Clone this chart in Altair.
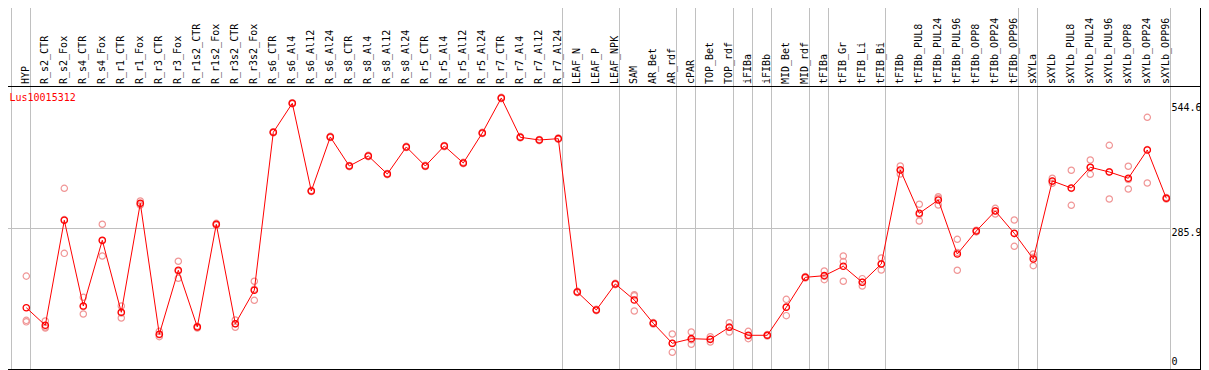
import altair as alt
import pandas as pd

gene = "Lus10015312"

categories = ["HYP", "R_s2_CTR", "R_s2_Fox", "R_s4_CTR", "R_s4_Fox", "R_r1_CTR", "R_r1_Fox",
              "R_r3_CTR", "R_r3_Fox", "R_r1s2_CTR", "R_r1s2_Fox", "R_r3s2_CTR", "R_r3s2_Fox",
              "R_s6_CTR", "R_s6_Al4", "R_s6_Al12", "R_s6_Al24", "R_s8_CTR", "R_s8_Al4", "R_s8_Al12",
              "R_s8_Al24", "R_r5_CTR", "R_r5_Al4", "R_r5_Al12", "R_r5_Al24", "R_r7_CTR", "R_r7_Al4",
              "R_r7_Al12", "R_r7_Al24", "LEAF_N", "LEAF_P", "LEAF_NPK", "SAM", "AR_Bet", "AR_rdf",
              "cPAR", "TOP_Bet", "TOP_rdf", "iFIBa", "iFIBb", "MID_Bet", "MID_rdf", "tFIBa",
              "tFIB_Gr", "tFIB_Li", "tFIB_Bi", "tFIBb", "tFIBb_PUL8", "tFIBb_PUL24", "tFIBb_PUL96",
              "tFIBb_OPP8", "tFIBb_OPP24", "tFIBb_OPP96", "sXYLa", "sXYLb", "sXYLb_PUL8",
              "sXYLb_PUL24", "sXYLb_PUL96", "sXYLb_OPP8", "sXYLb_OPP24", "sXYLb_OPP96"]

means = [124.7, 88.9, 302.6, 128.2, 261.9, 115.4, 337.2, 70.6, 200.9, 85.5, 294.5, 92.2, 160.2,
         481.7, 540.7, 362.2, 472.1, 413.1, 433.5, 396.8, 451.8, 413.1, 453.8, 419.2, 480.3,
         551.5, 471.5, 466.0, 468.7,
         156.7, 120.1, 173.0, 140.4, 93.0, 52.3, 61.7, 60.4, 84.9, 68.6, 68.6, 125.6, 186.6,
         189.9, 209.0, 176.4, 213.7,
         405.0, 316.9, 343.9, 234.0, 280.8, 321.5, 276.1, 223.9, 382.6, 368.3, 410.5, 400.9,
         388.1, 445.7, 347.4]

replicates = [
    [189.0, 99.0, 96.0], [97.7, 85.5, 83.5], [367.7, 235.4, 304.0], [145.9, 111.9, 127.0],
    [294.5, 230.0, 261.0], [128.2, 103.8, 114.0], [341.9, 333.7, 336.0], [76.7, 65.7, 69.5],
    [219.2, 184.6, 199.0], [86.9, 83.4, 86.2], [296.5, 292.4, 294.6], [99.7, 84.9, 92.0],
    [178.5, 139.8, 162.3],
    [483.0, 480.5, 481.6], [542.0, 539.4, 540.7], [363.5, 361.0, 362.1], [473.4, 470.9, 472.0],
    [414.3, 411.8, 413.2], [434.8, 432.1, 433.6], [398.0, 395.5, 396.9], [453.1, 450.6, 451.7],
    [414.5, 411.9, 412.9], [455.0, 452.5, 453.9], [420.6, 417.9, 419.1], [481.5, 479.0, 480.4],
    [552.8, 550.2, 551.5], [472.9, 470.2, 471.4], [467.2, 464.7, 466.1], [470.0, 467.4, 468.7],
    [158.0, 155.4, 156.7], [121.4, 118.8, 120.1], [174.3, 171.6, 173.1],
    [151.2, 149.0, 118.0], [94.5, 91.5, 93.0], [71.2, 34.0, 51.7], [75.3, 50.3, 59.5],
    [65.7, 55.0, 60.5], [94.2, 75.3, 85.2], [76.7, 61.7, 67.4], [70.0, 67.0, 68.8],
    [141.8, 108.5, 126.5], [188.0, 185.0, 186.8], [199.4, 181.7, 188.6], [230.0, 178.5, 218.5],
    [183.8, 168.9, 176.5], [225.9, 201.5, 213.7],
    [413.1, 396.8, 405.1], [335.2, 301.2, 314.3], [350.6, 333.7, 347.4], [263.9, 200.9, 237.2],
    [282.5, 279.0, 280.9], [327.0, 315.4, 322.1], [303.2, 249.7, 275.4], [234.0, 210.2, 227.5],
    [388.1, 377.9, 381.8], [404.4, 333.1, 367.4], [425.3, 396.2, 410.0], [455.2, 346.0, 401.5],
    [412.5, 366.3, 385.5], [512.2, 378.5, 446.4], [349.0, 346.0, 347.2],
]

# a grey separator follows each of these categories (plus one before the first)
group_ends = ["HYP", "R_r7_Al24", "LEAF_NPK", "AR_rdf", "cPAR", "TOP_rdf", "iFIBa", "iFIBb",
              "MID_rdf", "tFIBa", "tFIB_Bi", "tFIBb_OPP96", "sXYLa", "sXYLb_OPP96"]

tick_values = [544.6, 285.9, 0]
tick_labels = ["544.6", "285.9", "0"]
grid_values = [285.9]

# ---------------- layout ----------------
W, H = 1209, 370
X0, DX = 26.3, 19.0          # pixel of first category, spacing
Y0, K = 369.0, 0.49143        # pixel of value 0, pixels per unit
SEP_OFF = 4.2 / DX
RIGHT = 1200.5               # right frame
LABEL_X = 1171.5
FONT = "DejaVu Sans Mono"
GRAY = "#c0c0c0"
PINK = "#f09696"
RED = "#ff0000"

xs = alt.Scale(domain=[(0 - X0) / DX, (W - X0) / DX], nice=False, zero=False)
ys = alt.Scale(domain=[(Y0 - H) / K, Y0 / K], nice=False, zero=False)

pts = pd.DataFrame({"idx": list(range(len(categories))), "name": categories, "mean": means})
reps = pd.DataFrame([{"idx": i, "value": v} for i, r in enumerate(replicates) for v in r])
seps = pd.DataFrame({"pos": [-1 + SEP_OFF] + [categories.index(c) + SEP_OFF for c in group_ends]})
grid = pd.DataFrame({"v": grid_values})
ticks = pd.DataFrame({"v": tick_values, "label": tick_labels})
dummy = pd.DataFrame({"a": [0]})

X = lambda f: alt.X(f, type="quantitative", scale=xs, axis=None)
Y = lambda f: alt.Y(f, type="quantitative", scale=ys, axis=None)

sep_layer = alt.Chart(seps).mark_rule(color=GRAY, strokeWidth=1).encode(
    x=X("pos"), y=alt.value(0), y2=alt.value(369.5))
grid_layer = alt.Chart(grid).mark_rule(color=GRAY, strokeWidth=1).encode(
    y=Y("v"), x=alt.value(0), x2=alt.value(LABEL_X - 1))

frame = [
    alt.Chart(dummy).mark_rule(color="black", strokeWidth=1).encode(
        x=alt.value(0.5), y=alt.value(0), y2=alt.value(370)),
    alt.Chart(dummy).mark_rule(color="black", strokeWidth=1).encode(
        x=alt.value(RIGHT), y=alt.value(0), y2=alt.value(370)),
    alt.Chart(dummy).mark_rule(color="black", strokeWidth=1).encode(
        y=alt.value(0.5), x=alt.value(0), x2=alt.value(RIGHT)),
    alt.Chart(dummy).mark_rule(color="black", strokeWidth=1).encode(
        y=alt.value(86.5), x=alt.value(0), x2=alt.value(RIGHT)),
    alt.Chart(dummy).mark_rule(color="black", strokeWidth=1).encode(
        y=alt.value(369.5), x=alt.value(0), x2=alt.value(RIGHT)),
]

header = alt.Chart(pts).mark_text(angle=270, align="left", baseline="middle", font=FONT,
                                  fontSize=10, color="black").encode(
    x=X("idx"), y=alt.value(84), text="name:N")

gene_label = alt.Chart(pd.DataFrame({"g": [gene]})).mark_text(
    align="left", baseline="alphabetic", font=FONT, fontSize=10, color=RED).encode(
    x=alt.value(9.5), y=alt.value(100.5), text="g:N")

tick_layers = []
for val, dy in zip(tick_values, [10, 7.5, -4]):
    tick_layers.append(
        alt.Chart(ticks).transform_filter(alt.datum.v == val).mark_text(
            align="left", baseline="alphabetic", font=FONT, fontSize=10, color="black", dy=dy
        ).encode(y=Y("v"), x=alt.value(LABEL_X), text="label:N"))

rep_layer = alt.Chart(reps).mark_point(shape="circle", filled=False, size=40, strokeWidth=1.2,
                                       color=PINK, opacity=1).encode(x=X("idx"), y=Y("value"))
line_layer = alt.Chart(pts).mark_line(color=RED, strokeWidth=1).encode(x=X("idx"), y=Y("mean"))
main_layer = alt.Chart(pts).mark_point(shape="circle", filled=False, size=40, strokeWidth=1.3,
                                       color=RED, opacity=1).encode(x=X("idx"), y=Y("mean"))

chart = alt.layer(sep_layer, grid_layer, *frame, header, gene_label, *tick_layers,
                  rep_layer, line_layer, main_layer).properties(
    width=W, height=H,
    padding={"left": -8, "top": -8, "right": -8, "bottom": 0},
    autosize=alt.AutoSizeParams(type="none"),
    background="white",
).configure_view(stroke="transparent")

chart.save("out.html", embed_options={"renderer": "svg", "actions": False})
